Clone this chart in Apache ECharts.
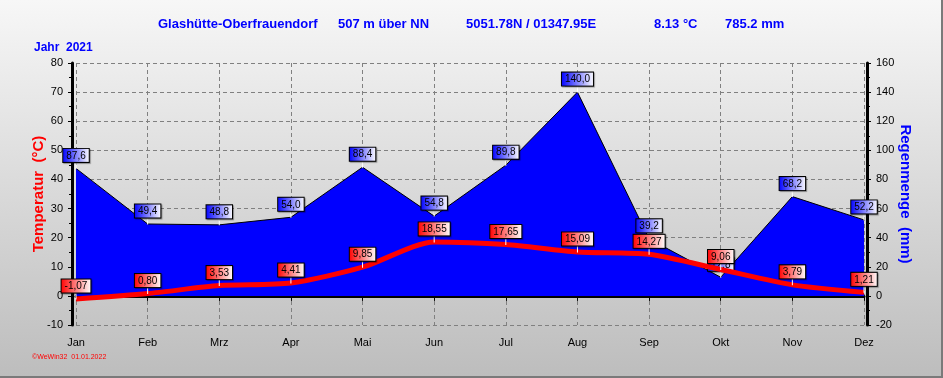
<!DOCTYPE html>
<html>
<head>
<meta charset="utf-8">
<script src="https://cdn.jsdelivr.net/npm/echarts@6/dist/echarts.min.js"></script>
<style>
  html, body { margin: 0; padding: 0; }
  #chart { width: 943px; height: 378px; box-sizing: border-box; border-right: 2px solid #7a7a7a; border-bottom: 2px solid #7a7a7a; }
</style>
</head>
<body>
<div id="chart"></div>
<script>
// Monatswerte 2021
var monate = ['Jan', 'Feb', 'Mrz', 'Apr', 'Mai', 'Jun', 'Jul', 'Aug', 'Sep', 'Okt', 'Nov', 'Dez'];
var temperatur = [-1.07, 0.80, 3.53, 4.41, 9.85, 18.55, 17.65, 15.09, 14.27, 9.06, 3.79, 1.21];
var regen = [87.6, 49.4, 48.8, 54.0, 88.4, 54.8, 89.8, 140.0, 39.2, 12.8, 68.2, 52.2];

var kopf = [
    { text: 'Glashütte-Oberfrauendorf', x: 158 },
    { text: '507 m über NN', x: 338 },
    { text: '5051.78N / 01347.95E', x: 466 },
    { text: '8.13 °C', x: 654 },
    { text: '785.2 mm', x: 725 }
];

var schrift = 'Liberation Sans, Arial, sans-serif';

function kasten(farbe) {
    return {
        show: true,
        position: 'top',
        distance: 0,
        color: '#000',
        fontSize: 10,
        fontFamily: schrift,
        padding: [2, 3, 1, 3],
        borderColor: '#000',
        borderWidth: 1,
        shadowColor: 'rgba(0,0,0,0.35)',
        shadowOffsetX: 1,
        shadowOffsetY: 1,
        shadowBlur: 1,
        backgroundColor: {
            type: 'linear', x: 0, y: 0, x2: 1, y2: 0,
            colorStops: [{ offset: 0, color: farbe }, { offset: 1, color: '#ffffff' }]
        }
    };
}

var titel = kopf.map(function (k) {
    return {
        text: k.text,
        left: k.x,
        top: 18,
        padding: 0,
        textStyle: { color: '#0000ff', fontSize: 13, fontWeight: 'bold', fontFamily: schrift }
    };
});
titel.push({
    text: 'Jahr  2021', left: 34, top: 42, padding: 0,
    textStyle: { color: '#0000ff', fontSize: 12, fontWeight: 'bold', fontFamily: schrift }
});
titel.push({
    text: '©WeWin32  01.01.2022', left: 32, top: 354, padding: 0,
    textStyle: { color: '#ff0000', fontSize: 7, fontWeight: 'normal', fontFamily: schrift }
});

var achsenText = { color: '#000', fontSize: 11, fontFamily: schrift };
var gitter = { show: true, lineStyle: { color: '#808080', type: [4, 3], width: 1 } };

var option = {
    animation: false,
    backgroundColor: {
        type: 'linear', x: 0, y: 0, x2: 0, y2: 1,
        colorStops: [{ offset: 0, color: '#f7f7f7' }, { offset: 1, color: '#bdbdbd' }]
    },
    title: titel,
    grid: { left: 76, right: 77, top: 63, bottom: 51, show: false },
    xAxis: [{
        type: 'category',
        data: monate,
        boundaryGap: false,
        axisLine: { lineStyle: { color: '#000', width: 3 } },
        axisTick: { show: true, length: 5, lineStyle: { color: '#000' } },
        axisLabel: Object.assign({ margin: 12 }, achsenText),
        splitLine: gitter
    }, {
        // obere Rahmenlinie
        type: 'category',
        data: monate,
        boundaryGap: false,
        position: 'top',
        axisLine: { lineStyle: { color: '#000', width: 1 } },
        axisTick: { show: false },
        axisLabel: { show: false },
        splitLine: { show: false }
    }],
    yAxis: [{
        type: 'value',
        min: -10, max: 80, interval: 10,
        offset: 4,
        name: 'Temperatur  (°C)',
        nameLocation: 'middle',
        nameGap: 26,
        nameMoveOverlap: false,
        nameTextStyle: { color: '#ff0000', fontSize: 15, fontWeight: 'bold', fontFamily: schrift },
        axisLine: { show: true, lineStyle: { color: '#000', width: 3 } },
        axisTick: { show: true, length: 4, lineStyle: { color: '#000' } },
        minorTick: { show: true, splitNumber: 2, length: 3, lineStyle: { color: '#000' } },
        axisLabel: Object.assign({ margin: 9 }, achsenText),
        splitLine: gitter
    }, {
        type: 'value',
        min: -20, max: 160, interval: 20,
        offset: 3,
        name: 'Regenmenge  (mm)',
        nameLocation: 'middle',
        nameRotate: -90,
        nameGap: 31,
        nameMoveOverlap: false,
        nameTextStyle: { color: '#0000ff', fontSize: 15, fontWeight: 'bold', fontFamily: schrift },
        axisLine: { show: true, lineStyle: { color: '#000', width: 3 } },
        axisTick: { show: true, length: 4, lineStyle: { color: '#000' } },
        minorTick: { show: true, splitNumber: 2, length: 3, lineStyle: { color: '#000' } },
        axisLabel: Object.assign({ margin: 9 }, achsenText),
        splitLine: { show: false }
    }],
    series: [{
        name: 'Regen',
        type: 'line',
        yAxisIndex: 1,
        data: regen,
        z: 2,
        symbol: 'rect',
        symbolSize: [1, 7],
        symbolOffset: [0, -3],
        itemStyle: { color: '#ffffff' },
        lineStyle: { color: '#000', width: 1 },
        areaStyle: { color: '#0000ff', opacity: 1 },
        label: Object.assign(kasten('#0000ff'), {
            formatter: function (p) { return p.value.toFixed(1).replace('.', ','); }
        })
    }, {
        name: 'Temperatur',
        type: 'line',
        data: temperatur,
        z: 3,
        smooth: 0.25,
        symbol: 'rect',
        symbolSize: [1, 7],
        symbolOffset: [0, -3],
        itemStyle: { color: '#ffffff' },
        lineStyle: { color: '#ff0000', width: 5 },
        label: Object.assign(kasten('#ff0000'), {
            formatter: function (p) { return p.value.toFixed(2).replace('.', ','); }
        })
    }]
};

var chart = echarts.init(document.getElementById('chart'));
chart.setOption(option);
</script>
</body>
</html>
